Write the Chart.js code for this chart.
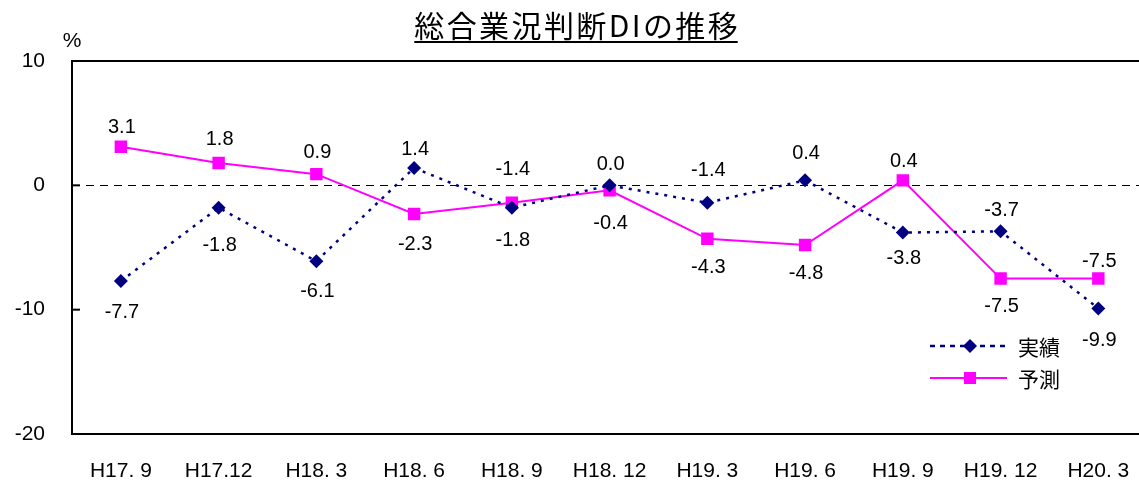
<!DOCTYPE html>
<html lang="ja">
<head>
<meta charset="utf-8">
<script src="https://cdn.jsdelivr.net/npm/chart.js@4.4.1/dist/chart.umd.min.js"></script>
<style>
  html, body { margin: 0; padding: 0; background: #fff; overflow: hidden; }
  #wrap { position: relative; width: 1156px; height: 482px; }
</style>
</head>
<body>
<div id="wrap"><canvas id="diChart" width="1156" height="482"></canvas></div>
<script>
const periods = ['H17. 9', 'H17.12', 'H18. 3', 'H18. 6', 'H18. 9', 'H18. 12', 'H19. 3', 'H19. 6', 'H19. 9', 'H19. 12', 'H20. 3'];
const actual = [-7.7, -1.8, -6.1, 1.4, -1.8, 0.0, -1.4, 0.4, -3.8, -3.7, -9.9];
const forecast = [3.1, 1.8, 0.9, -2.3, -1.4, -0.4, -4.3, -4.8, 0.4, -7.5, -7.5];
const yTicks = [-20, -10, 0, 10];

// vertical shift of each value label from its point (px, negative = above)
const actualLabelShift = [31, 38, 30, -18, 33, -21, -32, -27, 26, -21, 32];
const forecastLabelShift = [-19, -23, -22, 31, -33, 33, 29, 28, -19, 28, -17];

const NAVY = '#000080';
const MAGENTA = '#FF00FF';
const LATIN = '"Liberation Sans", Arial, sans-serif';
const CJK = '"Noto Sans CJK JP", sans-serif';

function diamond(ctx, x, y, r) {
  ctx.beginPath();
  ctx.moveTo(x, y - r);
  ctx.lineTo(x + r, y);
  ctx.lineTo(x, y + r);
  ctx.lineTo(x - r, y);
  ctx.closePath();
  ctx.fill();
}

const decorations = {
  id: 'decorations',
  beforeDatasetsDraw(chart) {
    const { ctx, chartArea: a, scales: { y } } = chart;
    ctx.save();
    // dashed zero line
    const y0 = Math.round(y.getPixelForValue(0)) + 0.5;
    ctx.strokeStyle = '#000';
    ctx.lineWidth = 1;
    ctx.setLineDash([8, 6]);
    ctx.beginPath();
    ctx.moveTo(a.left, y0);
    ctx.lineTo(a.right, y0);
    ctx.stroke();
    ctx.setLineDash([]);
    // plot frame and small inward ticks
    ctx.lineWidth = 2;
    ctx.strokeRect(a.left, a.top, a.right - a.left, a.bottom - a.top);
    yTicks.forEach(v => {
      const py = y.getPixelForValue(v);
      ctx.beginPath();
      ctx.moveTo(a.left, py);
      ctx.lineTo(a.left + 8, py);
      ctx.stroke();
    });
    ctx.restore();
  },
  afterDatasetsDraw(chart) {
    const { ctx } = chart;
    ctx.save();
    // value labels
    ctx.fillStyle = '#000';
    ctx.font = '20px ' + LATIN;
    ctx.textAlign = 'center';
    ctx.textBaseline = 'middle';
    [[0, actual, actualLabelShift], [1, forecast, forecastLabelShift]].forEach(([di, vals, shift]) => {
      const pts = chart.getDatasetMeta(di).data;
      vals.forEach((v, i) => {
        const p = pts[i];
        ctx.fillText(v.toFixed(1), p.x + 1, p.y + shift[i]);
      });
    });

    // legend
    const lx = 930, lx2 = 1007, mx = 970, tx = 1018;
    const ly1 = 346, ly2 = 378;
    ctx.strokeStyle = NAVY;
    ctx.lineWidth = 2.5;
    ctx.setLineDash([5, 5]);
    ctx.beginPath();
    ctx.moveTo(lx, ly1);
    ctx.lineTo(lx2, ly1);
    ctx.stroke();
    ctx.setLineDash([]);
    ctx.fillStyle = NAVY;
    diamond(ctx, mx, ly1, 7);

    ctx.strokeStyle = MAGENTA;
    ctx.lineWidth = 2;
    ctx.beginPath();
    ctx.moveTo(lx, ly2);
    ctx.lineTo(lx2, ly2);
    ctx.stroke();
    ctx.fillStyle = MAGENTA;
    ctx.fillRect(mx - 6, ly2 - 6, 12, 12);

    ctx.fillStyle = '#000';
    ctx.font = '21px ' + CJK;
    ctx.textAlign = 'left';
    ctx.fillText('実績', tx, ly1 + 1);
    ctx.fillText('予測', tx, ly2 + 1);
    ctx.restore();
  },
  afterDraw(chart) {
    const { ctx } = chart;
    ctx.save();
    // underlined title
    const title = '総合業況判断DIの推移';
    ctx.font = '30px ' + CJK;
    ctx.letterSpacing = '2.4px';
    ctx.fillStyle = '#000';
    ctx.textAlign = 'left';
    ctx.textBaseline = 'alphabetic';
    const w = ctx.measureText(title).width - 2.4;
    const x0 = 576 - w / 2;
    ctx.fillText(title, x0, 37);
    ctx.fillRect(x0, 41, w, 2);
    ctx.letterSpacing = '0px';
    // unit
    ctx.textAlign = 'center';
    ctx.font = '21px ' + LATIN;
    ctx.fillText('%', 72, 47);
    ctx.restore();
  }
};

new Chart(document.getElementById('diChart'), {
  type: 'line',
  data: {
    labels: periods,
    datasets: [
      {
        label: '実績',
        data: actual,
        borderColor: NAVY,
        backgroundColor: NAVY,
        borderWidth: 2.5,
        borderDash: [3, 6],
        pointStyle: 'rectRot',
        pointRadius: 7,
        pointBorderWidth: 0,
        tension: 0,
        fill: false
      },
      {
        label: '予測',
        data: forecast,
        borderColor: MAGENTA,
        backgroundColor: MAGENTA,
        borderWidth: 2,
        pointStyle: 'rect',
        pointRadius: 8.8,
        pointBorderWidth: 0,
        tension: 0,
        fill: false
      }
    ]
  },
  options: {
    responsive: false,
    animation: false,
    layout: { padding: { top: 61, right: 5, left: 0, bottom: 0 } },
    plugins: {
      legend: { display: false },
      title: { display: false },
      tooltip: { enabled: false }
    },
    scales: {
      x: {
        offset: true,
        grid: { display: false, drawTicks: false },
        border: { display: false },
        ticks: { color: '#000', font: { family: LATIN, size: 21 }, padding: 25, maxRotation: 0, autoSkip: false },
        afterFit: s => { s.height = 48; }
      },
      y: {
        min: -20,
        max: 10,
        grid: { display: false, drawTicks: false },
        border: { display: false },
        ticks: { stepSize: 10, color: '#000', font: { family: LATIN, size: 21 }, padding: 27 },
        afterFit: s => { s.width = 72; }
      }
    }
  },
  plugins: [decorations]
});
</script>
</body>
</html>
